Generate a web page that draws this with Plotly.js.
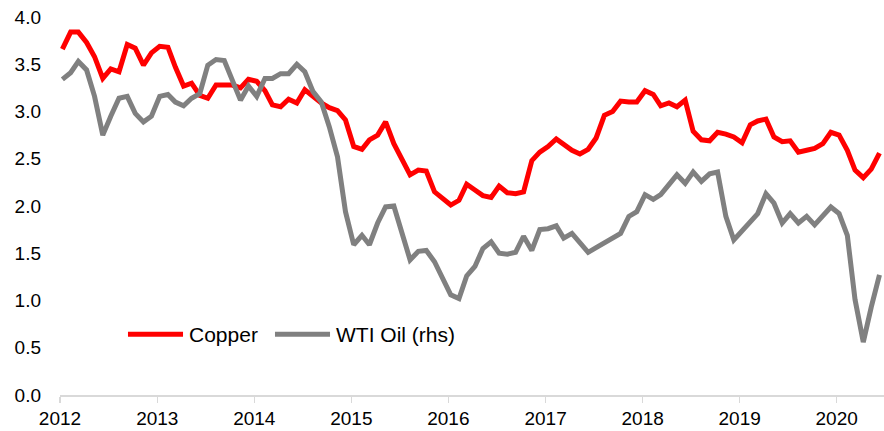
<!DOCTYPE html>
<html>
<head>
<meta charset="utf-8">
<script src="https://cdn.plot.ly/plotly-3.0.1.min.js"></script>
<style>
  html, body { margin: 0; padding: 0; background: #ffffff; }
  #chart { width: 884px; height: 431px; }
</style>
</head>
<body>
<div id="chart"></div>
<script>
// Monthly series, Jan 2012 - Jun 2020
var startYear = 2012;
var startMonth = 1;

var copper = [
  3.66, 3.84, 3.84, 3.73, 3.58, 3.35, 3.45, 3.42, 3.71, 3.67, 3.49, 3.62,
  3.69, 3.68, 3.47, 3.27, 3.30, 3.17, 3.14, 3.28, 3.28, 3.28, 3.25, 3.34,
  3.32, 3.22, 3.07, 3.05, 3.13, 3.09, 3.23, 3.16, 3.09, 3.04, 3.01, 2.91,
  2.63, 2.60, 2.70, 2.75, 2.89, 2.66, 2.50, 2.33, 2.38, 2.37, 2.15, 2.08,
  2.01, 2.06, 2.23, 2.17, 2.11, 2.09, 2.21, 2.14, 2.13, 2.15, 2.48, 2.57,
  2.63, 2.71, 2.65, 2.59, 2.55, 2.60, 2.72, 2.96, 3.00, 3.11, 3.10, 3.10,
  3.22, 3.18, 3.06, 3.09, 3.05, 3.12, 2.79, 2.70, 2.69, 2.78, 2.76, 2.73,
  2.67, 2.86, 2.90, 2.92, 2.73, 2.68, 2.69, 2.57, 2.59, 2.61, 2.66, 2.78,
  2.75, 2.59, 2.38, 2.30, 2.39, 2.56
];

var wtiOil = [
  3.34, 3.41, 3.53, 3.44, 3.16, 2.75, 2.95, 3.14, 3.16, 2.98, 2.89, 2.95,
  3.16, 3.18, 3.10, 3.06, 3.14, 3.19, 3.49, 3.55, 3.54, 3.33, 3.12, 3.27,
  3.16, 3.35, 3.35, 3.40, 3.40, 3.50, 3.42, 3.21, 3.10, 2.84, 2.52, 1.94,
  1.59, 1.69, 1.59, 1.82, 1.99, 2.00, 1.71, 1.43, 1.52, 1.53, 1.41, 1.23,
  1.06, 1.02, 1.26, 1.36, 1.55, 1.62, 1.50, 1.49, 1.51, 1.68, 1.53, 1.75,
  1.76, 1.79, 1.66, 1.71, 1.61, 1.51, 1.56, 1.61, 1.66, 1.71, 1.89, 1.94,
  2.12, 2.07, 2.12, 2.22, 2.33, 2.24, 2.36, 2.26, 2.34, 2.36, 1.89, 1.64,
  1.73, 1.82, 1.92, 2.13, 2.03, 1.82, 1.92, 1.82, 1.89, 1.80, 1.89, 1.99,
  1.92, 1.69, 1.01, 0.56, 0.93, 1.27
];

var yearTicks = ['2012','2013','2014','2015','2016','2017','2018','2019','2020'];
var seriesNames = ['Copper', 'WTI Oil (rhs)'];
var seriesColors = ['#ff0000', '#808080'];

// month dates
var dates = [];
for (var i = 0; i < copper.length; i++) {
  var m = startMonth - 1 + i;
  var y = startYear + Math.floor(m / 12);
  var mm = (m % 12) + 1;
  dates.push(y + '-' + (mm < 10 ? '0' + mm : mm) + '-10');
}

var FONT = 'Liberation Sans, Arial, Helvetica, sans-serif';

var traces = [
  {
    x: dates, y: copper, name: seriesNames[0], type: 'scatter', mode: 'lines',
    line: { color: seriesColors[0], width: 5 }
  },
  {
    x: dates, y: wtiOil, name: seriesNames[1], type: 'scatter', mode: 'lines',
    line: { color: seriesColors[1], width: 5 }
  }
];

// Custom legend (long line keys like the original)
var legendY = 0.161;
var legendItems = [
  { x0: 0.0825, x1: 0.1493, tx: 0.1541 },
  { x0: 0.2609, x1: 0.3277, tx: 0.3325 }
];
var shapes = [];
var annotations = [];
legendItems.forEach(function (it, k) {
  shapes.push({
    type: 'line', xref: 'paper', yref: 'paper',
    x0: it.x0, x1: it.x1, y0: legendY, y1: legendY,
    line: { color: seriesColors[k], width: 5 }
  });
  annotations.push({
    xref: 'paper', yref: 'paper', x: it.tx, y: legendY,
    xanchor: 'left', yanchor: 'middle', showarrow: false,
    text: seriesNames[k],
    font: { family: FONT, size: 21, color: '#000000' }
  });
});

var layout = {
  width: 884, height: 431,
  margin: { l: 60, r: 0, t: 17, b: 36 },
  paper_bgcolor: '#ffffff', plot_bgcolor: '#ffffff',
  font: { family: FONT, size: 19, color: '#000000' },
  showlegend: false,
  shapes: shapes,
  annotations: annotations,
  xaxis: {
    type: 'date',
    range: ['2012-01-01', '2020-06-27'],
    tickvals: yearTicks.map(function (t) { return t + '-01-01'; }),
    ticktext: yearTicks,
    ticks: 'outside', ticklen: 6, tickwidth: 1.5, tickcolor: '#d9d9d9',
    showline: true, linecolor: '#d9d9d9', linewidth: 1.5,
    showgrid: false, zeroline: false,
    tickfont: { family: FONT, size: 19, color: '#000000' }
  },
  yaxis: {
    range: [0, 4], dtick: 0.5, tick0: 0, tickformat: '.1f',
    showgrid: false, zeroline: false, showline: false, ticks: '',
    ticklabelstandoff: 18,
    tickfont: { family: FONT, size: 19, color: '#000000' }
  }
};

Plotly.newPlot('chart', traces, layout, { displayModeBar: false, staticPlot: true });
</script>
</body>
</html>
